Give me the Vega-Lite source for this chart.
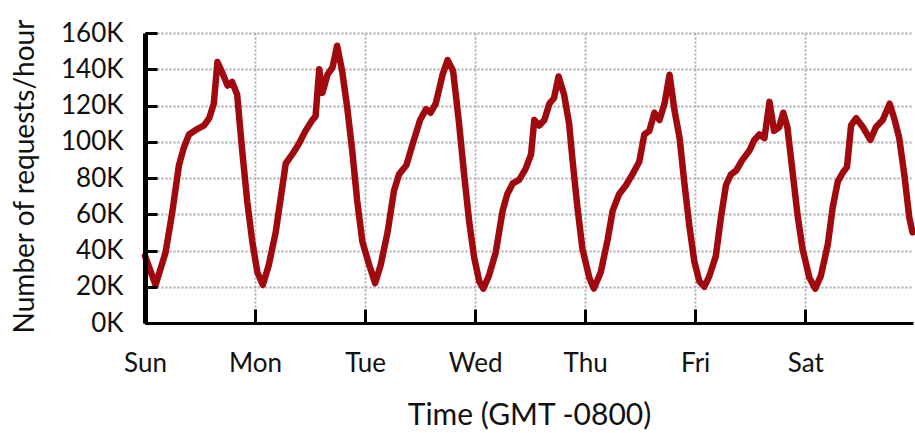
{
  "$schema": "https://vega.github.io/schema/vega-lite/v6.json",
  "autosize": "none",
  "width": 768,
  "height": 290,
  "padding": {"left": 145, "top": 33, "right": 2, "bottom": 110},
  "background": "white",
  "config": {"view": {"stroke": null}, "font": "Lato"},
  "resolve": {"axis": {"x": "independent", "y": "independent"}},
  "data": {"values": [
    {"hour": 0, "requests": 37000}, {"hour": 2.3, "requests": 21000}, {"hour": 4.5, "requests": 39000}, {"hour": 6, "requests": 62000},
    {"hour": 7.4, "requests": 87000}, {"hour": 8.5, "requests": 97000}, {"hour": 9.6, "requests": 104000}, {"hour": 11.4, "requests": 107000},
    {"hour": 12.9, "requests": 109000}, {"hour": 14, "requests": 113000}, {"hour": 15, "requests": 121000}, {"hour": 15.8, "requests": 144000},
    {"hour": 16.7, "requests": 139000}, {"hour": 18, "requests": 131000}, {"hour": 19, "requests": 133000}, {"hour": 20.1, "requests": 126000},
    {"hour": 21.2, "requests": 95000}, {"hour": 22.3, "requests": 67000}, {"hour": 23.4, "requests": 45000}, {"hour": 24.5, "requests": 28000},
    {"hour": 25.7, "requests": 21000}, {"hour": 27, "requests": 32000}, {"hour": 28.5, "requests": 50000}, {"hour": 29.6, "requests": 69000},
    {"hour": 30.7, "requests": 88000}, {"hour": 32.1, "requests": 93000}, {"hour": 33.6, "requests": 99000}, {"hour": 35, "requests": 106000},
    {"hour": 36.5, "requests": 112000}, {"hour": 37.2, "requests": 114000}, {"hour": 38, "requests": 140000}, {"hour": 38.7, "requests": 127000},
    {"hour": 39.8, "requests": 137000}, {"hour": 40.9, "requests": 141000}, {"hour": 41.9, "requests": 153000}, {"hour": 43, "requests": 139000},
    {"hour": 44.1, "requests": 119000}, {"hour": 45.2, "requests": 95000}, {"hour": 46.3, "requests": 67000}, {"hour": 47.4, "requests": 45000},
    {"hour": 48.9, "requests": 32000}, {"hour": 50.2, "requests": 22000}, {"hour": 51.4, "requests": 32000}, {"hour": 52.9, "requests": 50000},
    {"hour": 54.3, "requests": 73000}, {"hour": 55.4, "requests": 82000}, {"hour": 57, "requests": 87000}, {"hour": 58.4, "requests": 99000},
    {"hour": 60, "requests": 112000}, {"hour": 61.3, "requests": 118000}, {"hour": 62.3, "requests": 116000}, {"hour": 63.4, "requests": 121000},
    {"hour": 64.9, "requests": 137000}, {"hour": 66, "requests": 145000}, {"hour": 67.2, "requests": 139000}, {"hour": 68.5, "requests": 110000},
    {"hour": 69.6, "requests": 82000}, {"hour": 70.7, "requests": 56000}, {"hour": 71.8, "requests": 36000}, {"hour": 72.9, "requests": 23000},
    {"hour": 73.8, "requests": 19000}, {"hour": 75, "requests": 26000}, {"hour": 76.5, "requests": 39000}, {"hour": 78, "requests": 62000},
    {"hour": 79, "requests": 71000}, {"hour": 80.2, "requests": 77000}, {"hour": 81.6, "requests": 79000}, {"hour": 83, "requests": 85000},
    {"hour": 84.2, "requests": 93000}, {"hour": 84.9, "requests": 112000}, {"hour": 86, "requests": 109000}, {"hour": 87.1, "requests": 112000},
    {"hour": 88.2, "requests": 121000}, {"hour": 89.2, "requests": 124000}, {"hour": 90.2, "requests": 136000}, {"hour": 91.4, "requests": 126000},
    {"hour": 92.5, "requests": 110000}, {"hour": 93.2, "requests": 91000}, {"hour": 94.3, "requests": 64000}, {"hour": 95.4, "requests": 41000},
    {"hour": 96.9, "requests": 25000}, {"hour": 97.9, "requests": 19000}, {"hour": 99.4, "requests": 28000}, {"hour": 100.9, "requests": 46000},
    {"hour": 102, "requests": 62000}, {"hour": 103.4, "requests": 71000}, {"hour": 104.9, "requests": 76000}, {"hour": 106.3, "requests": 82000},
    {"hour": 107.8, "requests": 89000}, {"hour": 108.9, "requests": 104000}, {"hour": 110, "requests": 106000}, {"hour": 111.1, "requests": 116000},
    {"hour": 112.2, "requests": 112000}, {"hour": 113.3, "requests": 121000}, {"hour": 114.4, "requests": 137000}, {"hour": 115.5, "requests": 117000},
    {"hour": 116.6, "requests": 102000}, {"hour": 117.6, "requests": 78000}, {"hour": 118.7, "requests": 54000}, {"hour": 119.8, "requests": 34000},
    {"hour": 120.9, "requests": 23000}, {"hour": 122, "requests": 20000}, {"hour": 123.1, "requests": 26000}, {"hour": 124.5, "requests": 37000},
    {"hour": 125.6, "requests": 58000}, {"hour": 126.7, "requests": 76000}, {"hour": 127.8, "requests": 82000}, {"hour": 128.9, "requests": 84000},
    {"hour": 130.3, "requests": 90000}, {"hour": 131.8, "requests": 95000}, {"hour": 132.9, "requests": 101000}, {"hour": 134, "requests": 104000},
    {"hour": 135.1, "requests": 102000}, {"hour": 136.2, "requests": 122000}, {"hour": 137.2, "requests": 106000}, {"hour": 138.3, "requests": 108000},
    {"hour": 139.2, "requests": 116000}, {"hour": 140.1, "requests": 108000}, {"hour": 141.3, "requests": 82000}, {"hour": 142.3, "requests": 60000},
    {"hour": 143.4, "requests": 41000}, {"hour": 144.9, "requests": 25000}, {"hour": 146.2, "requests": 19000}, {"hour": 147.4, "requests": 26000},
    {"hour": 148.9, "requests": 43000}, {"hour": 150, "requests": 64000}, {"hour": 151.1, "requests": 78000}, {"hour": 152.2, "requests": 83000},
    {"hour": 153.1, "requests": 86000}, {"hour": 154, "requests": 109000}, {"hour": 155.1, "requests": 113000}, {"hour": 156.6, "requests": 108000},
    {"hour": 158.2, "requests": 101000}, {"hour": 159.4, "requests": 108000}, {"hour": 160.9, "requests": 112000}, {"hour": 162.4, "requests": 121000},
    {"hour": 163.4, "requests": 113000}, {"hour": 164.5, "requests": 102000}, {"hour": 165.6, "requests": 82000}, {"hour": 166.7, "requests": 58000},
    {"hour": 167.4, "requests": 50000}
  ]},
  "layer": [
    {
      "mark": {"type": "line", "color": "#a00a0f", "strokeWidth": 6.5, "strokeJoin": "round", "strokeCap": "round", "clip": false},
      "encoding": {
        "x": {
          "field": "hour", "type": "quantitative",
          "scale": {"domain": [0, 167.5], "nice": false, "zero": false},
          "axis": {
            "orient": "bottom",
            "values": [0, 24, 48, 72, 96, 120, 144],
            "title": null, "labels": false, "domain": false, "ticks": false,
            "zindex": 0,
            "grid": true, "gridColor": "#a8a8a8", "gridDash": [2, 2], "gridWidth": 1.8
          }
        },
        "y": {
          "field": "requests", "type": "quantitative",
          "scale": {"domain": [0, 160000], "nice": false},
          "axis": {
            "orient": "left",
            "values": [0, 20000, 40000, 60000, 80000, 100000, 120000, 140000, 160000],
            "title": null, "labels": false, "domain": false, "ticks": false,
            "zindex": 0,
            "grid": true, "gridColor": "#a8a8a8", "gridDash": [2, 2], "gridWidth": 1.8
          }
        }
      }
    },
    {
      "mark": {"type": "line", "opacity": 0},
      "encoding": {
        "x": {
          "field": "hour", "type": "quantitative",
          "axis": {
            "orient": "bottom",
            "values": [0, 24, 48, 72, 96, 120, 144],
            "labelExpr": "['Sun','Mon','Tue','Wed','Thu','Fri','Sat'][round(datum.value/24)]",
            "title": "Time (GMT -0800)",
            "titleFont": "Lato", "titleFontSize": 30, "titleFontWeight": "normal", "titleColor": "#111",
            "titleY": 101, "titleBaseline": "alphabetic",
            "labelFont": "Lato", "labelFontSize": 26, "labelColor": "#111",
            "labelBaseline": "alphabetic", "labelPadding": 62,
            "labelFlush": false,
            "domainColor": "#000", "domainWidth": 3,
            "ticks": true,
            "tickColor": "#000", "tickWidth": 3, "tickSize": -14, "tickOpacity": 1,
            "zindex": 1,
            "grid": false
          }
        },
        "y": {
          "field": "requests", "type": "quantitative",
          "axis": {
            "orient": "left",
            "values": [0, 20000, 40000, 60000, 80000, 100000, 120000, 140000, 160000],
            "labelExpr": "(datum.value/1000) + 'K'",
            "title": "Number of requests/hour",
            "titleFont": "Lato", "titleFontSize": 28, "titleFontWeight": "normal", "titleColor": "#111",
            "titleX": -112, "titleY": 143, "titleBaseline": "alphabetic", "titleAngle": -90, "titleAlign": "center",
            "labelFont": "Lato", "labelFontSize": 26, "labelColor": "#111",
            "labelPadding": 34,
            "domainColor": "#000", "domainWidth": 5,
            "ticks": true,
            "tickColor": "#000", "tickWidth": 3, "tickSize": -12, "tickOpacity": 1,
            "zindex": 1,
            "grid": false
          }
        }
      }
    }
  ]
}
